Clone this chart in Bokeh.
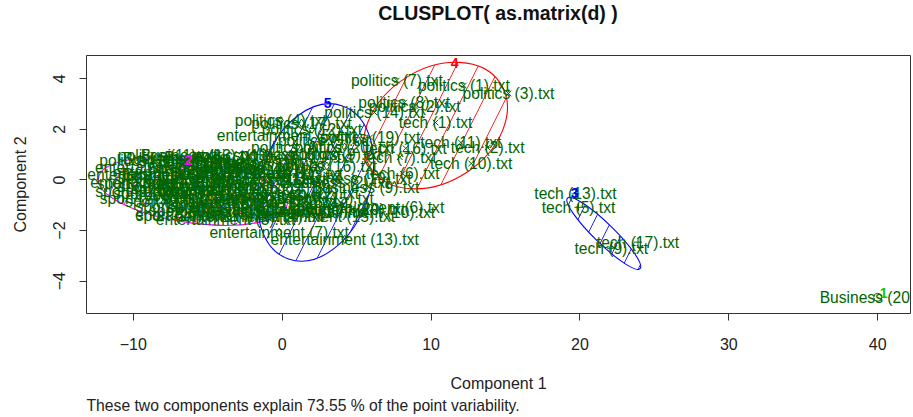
import numpy as np
from bokeh.plotting import figure
from bokeh.layouts import column
from bokeh.models import FixedTicker, Title, ColumnDataSource, Div
from bokeh.core.properties import value
from bokeh.embed import file_html
from bokeh.resources import INLINE

# ---------------- data ----------------
doc_names = [
    # sport
    "sport (1).txt", "sport (2).txt", "sport (3).txt", "sport (4).txt", "sport (5).txt",
    "sport (6).txt", "sport (7).txt", "sport (8).txt", "sport (9).txt", "sport (10).txt",
    "sport (11).txt", "sport (12).txt", "sport (13).txt", "sport (14).txt", "sport (15).txt",
    "sport (16).txt", "sport (17).txt", "sport (18).txt", "sport (19).txt", "sport (20).txt",
    # entertainment
    "entertainment (1).txt", "entertainment (2).txt", "entertainment (3).txt", "entertainment (4).txt",
    "entertainment (5).txt", "entertainment (6).txt", "entertainment (7).txt", "entertainment (8).txt",
    "entertainment (9).txt", "entertainment (10).txt", "entertainment (11).txt", "entertainment (12).txt",
    "entertainment (13).txt", "entertainment (14).txt", "entertainment (15).txt", "entertainment (16).txt",
    "entertainment (17).txt", "entertainment (18).txt", "entertainment (19).txt", "entertainment (20).txt",
    # business
    "Business (1).txt", "Business (2).txt", "Business (3).txt", "Business (4).txt", "Business (5).txt",
    "Business (6).txt", "Business (7).txt", "Business (8).txt", "Business (9).txt", "Business (10).txt",
    "Business (11).txt", "Business (12).txt", "Business (13).txt", "Business (14).txt", "Business (15).txt",
    "Business (16).txt", "Business (17).txt", "Business (18).txt", "Business (19).txt", "Business (20).txt",
    # politics
    "politics (1).txt", "politics (2).txt", "politics (3).txt", "politics (4).txt", "politics (5).txt",
    "politics (6).txt", "politics (7).txt", "politics (8).txt", "politics (9).txt", "politics (10).txt",
    "politics (11).txt", "politics (12).txt", "politics (13).txt", "politics (14).txt", "politics (15).txt",
    "politics (16).txt", "politics (17).txt", "politics (18).txt", "politics (19).txt", "politics (20).txt",
    # tech
    "tech (1).txt", "tech (2).txt", "tech (3).txt", "tech (4).txt", "tech (5).txt",
    "tech (6).txt", "tech (7).txt", "tech (8).txt", "tech (9).txt", "tech (10).txt",
    "tech (11).txt", "tech (12).txt", "tech (13).txt", "tech (14).txt", "tech (15).txt",
    "tech (16).txt", "tech (17).txt", "tech (18).txt", "tech (19).txt", "tech (20).txt",
]
doc_x = [
    -9.9, -9.6, -9.8, -8.7, -7.9, -8.4, -7.2, -6.6, -7.5, -6.0,
    -5.3, -6.3, -4.6, -5.6, -3.9, -8.1, -4.9, -3.4, -2.7, -6.9,
    -8.4, -8.2, -3.8, -1.9, 0.3, 6.2, -0.2, -5.2, -1.4, 5.3,
    -2.8, -6.4, 4.2, -7.6, 2.6, -0.5, 0.8, -4.3, -2.3, 3.3,
    -4.3, 3.6, -6.2, -3.0, -7.1, -1.6, -2.2, -0.5, 5.6, -5.1,
    -0.9, -3.6, -5.6, -2.0, -1.0, -6.8, 0.2, -4.4, 4.8, 40.0,
    12.2, 8.9, 15.2, -0.1, 2.8, 1.0, 7.7, 8.2, 3.6, -8.9,
    -7.7, 2.0, -2.6, 6.2, 0.6, 3.0, 1.3, -5.0, 5.9, 4.2,
    10.3, 13.8, -3.3, 1.5, 19.9, 8.1, 7.9, -1.7, 22.1, 12.7,
    12.0, 2.4, 19.7, 0.5, 3.4, 8.3, 23.9, -0.3, 2.0, 1.0,
]
doc_y = [
    -0.45, -0.75, -0.15, -0.55, -0.85, -0.25, -1.05, -0.60, -0.35, -1.20,
    -0.75, -0.10, -1.00, -0.40, -0.55, 0.10, -0.20, -0.90, -0.35, -1.40,
    0.20, -0.10, -1.55, -1.45, 1.75, -1.10, -2.07, -1.35, -1.20, -1.30,
    -1.10, 0.30, -2.35, 0.50, -1.45, -0.90, -1.25, 0.05, -0.70, -1.15,
    0.88, -0.10, 0.70, 0.55, 0.85, 0.30, 0.70, -0.60, -0.30, 0.45,
    0.00, 0.25, 0.95, -0.10, 0.60, 0.20, 0.25, -0.40, 0.05, -4.64,
    3.73, 2.92, 3.42, 2.35, 1.55, 1.30, 3.93, 3.06, 1.00, 0.75,
    0.95, 2.00, 0.95, 2.67, 1.00, 0.55, 2.25, 0.65, 1.68, 1.30,
    2.27, 1.28, -0.20, 0.15, -1.08, 0.25, 0.90, -0.75, -2.70, 0.65,
    1.48, -0.55, -0.55, -0.35, -0.75, 1.25, -2.46, 0.45, 0.90, -0.85,
]
doc_cluster = [
    2, 2, 2, 2, 2, 2, 2, 2, 2, 2,
    2, 2, 2, 2, 2, 2, 2, 2, 2, 2,
    2, 2, 2, 2, 5, 5, 5, 2, 2, 5,
    2, 2, 5, 2, 5, 2, 5, 2, 2, 5,
    2, 5, 2, 2, 2, 2, 2, 2, 5, 2,
    2, 2, 2, 2, 2, 2, 5, 2, 5, 1,
    4, 4, 4, 5, 5, 5, 4, 4, 5, 2,
    2, 5, 2, 4, 5, 5, 5, 2, 4, 5,
    4, 4, 2, 5, 3, 4, 4, 2, 3, 4,
    4, 5, 3, 5, 5, 4, 3, 2, 5, 5,
]

# cluster ellipses (centre, axes, rotation)
ell_cluster = [2, 5, 4, 3]
ell_x = [-6.0, 2.24, 10.30, 21.6]
ell_y = [-0.45, -0.10, 2.15, -2.11]
ell_w = [12.8, 10.9, 10.4, 6.8]
ell_h = [2.5, 4.32, 4.45, 0.79]
ell_angle = [-8.0, 70.6, 33.0, -44.2]
ell_color = ["#FF00FF", "#0000FF", "#FF0000", "#0000FF"]
ell_hatch_gap = [40, 40, 44, 34]

# cluster number labels
clus_text = ["1", "2", "3", "4", "5"]
clus_x = [40.4, -6.3, 19.65, 11.59, 3.05]
clus_y = [-4.45, 0.77, -0.53, 4.64, 3.06]
clus_color = ["#00CD00", "#FF00FF", "#0000FF", "#FF0000", "#0000FF"]

x_ticks = [-10, 0, 10, 20, 30, 40]
y_ticks = [-4, -2, 0, 2, 4]

title_text = "CLUSPLOT( as.matrix(d) )"
sub_text = "These two components explain 73.55 % of the point variability."
x_label = "Component 1"
y_label = "Component 2"

# ---------------- figure ----------------
FONT = "Liberation Sans"
TITLE_H = 30
p = figure(width=912, height=416 - TITLE_H, x_range=(-13.14, 42.2), y_range=(-5.28, 4.92),
           output_backend="svg", toolbar_location=None,
           min_border_left=86, min_border_right=2, min_border_top=55 - TITLE_H,
           min_border_bottom=103)
p.title.visible = False
p.background_fill_color = "white"
p.border_fill_color = "white"
p.outline_line_color = "#333333"
p.outline_line_width = 1
p.xgrid.visible = False
p.ygrid.visible = False

for ax in (p.xaxis[0], p.yaxis[0]):
    ax.axis_line_color = None
    ax.major_tick_in = 0
    ax.major_tick_out = 7
    ax.major_tick_line_color = "#333333"
    ax.minor_tick_line_color = None
    ax.major_label_text_font = FONT
    ax.major_label_text_font_size = "16px"
    ax.major_label_text_color = "#222222"
    ax.axis_label_text_font = FONT
    ax.axis_label_text_font_size = "16px"
    ax.axis_label_text_font_style = "normal"
    ax.axis_label_text_color = "#222222"

p.xaxis.ticker = FixedTicker(ticks=x_ticks)
p.yaxis.ticker = FixedTicker(ticks=y_ticks)
p.xaxis.axis_label = x_label
p.yaxis.axis_label = y_label
p.xaxis.major_label_standoff = 17
p.xaxis.axis_label_standoff = 22
p.yaxis.major_label_standoff = 14
p.yaxis.major_label_orientation = "vertical"
p.yaxis.axis_label_standoff = 22

sub = Title(text=sub_text, align="left", text_font=FONT, text_font_size="15.7px",
            text_font_style="normal", text_color="#222222", standoff=0)
p.add_layout(sub, "below")

# ellipses with hatching
esrc = ColumnDataSource(dict(x=ell_x, y=ell_y, w=ell_w, h=ell_h, a=ell_angle,
                             c=ell_color, g=ell_hatch_gap))
p.ellipse(x="x", y="y", width="w", height="h", angle="a", angle_units="deg",
          source=esrc, fill_color=None, line_color="c", line_width=1.1,
          hatch_pattern="/", hatch_color="c", hatch_scale="g", hatch_weight=1, hatch_alpha=0.85)

# points
marker_of = {1: "circle", 2: "triangle", 3: "cross", 4: "x", 5: "diamond"}
psrc = ColumnDataSource(dict(x=doc_x, y=doc_y, name=doc_names,
                             m=[marker_of[c] for c in doc_cluster]))
p.scatter(x="x", y="y", marker="m", source=psrc, size=8, fill_color=None,
          line_color="#006400", line_width=1)

# document labels
p.text(x="x", y="y", text="name", source=psrc, text_font=value(FONT),
       text_font_size="15.6px", text_color="#006400", text_align="center",
       text_baseline="middle")

# cluster numbers
csrc = ColumnDataSource(dict(x=clus_x, y=clus_y, t=clus_text, c=clus_color))
p.text(x="x", y="y", text="t", source=csrc, text_font=value(FONT),
       text_font_size="14px", text_font_style="bold", text_color="c",
       text_align="center", text_baseline="middle")

# main title centred over the plotting region
title_div = Div(text=title_text, width=824, height=TITLE_H, margin=(0, 0, 0, 86),
                styles={"text-align": "center", "font-family": FONT, "font-size": "19.5px",
                        "font-weight": "bold", "color": "#111111", "padding-top": "2px",
                        "line-height": "22px"})

layout = column(title_div, p, spacing=0)
open("out.html", "w").write(file_html(layout, INLINE))
